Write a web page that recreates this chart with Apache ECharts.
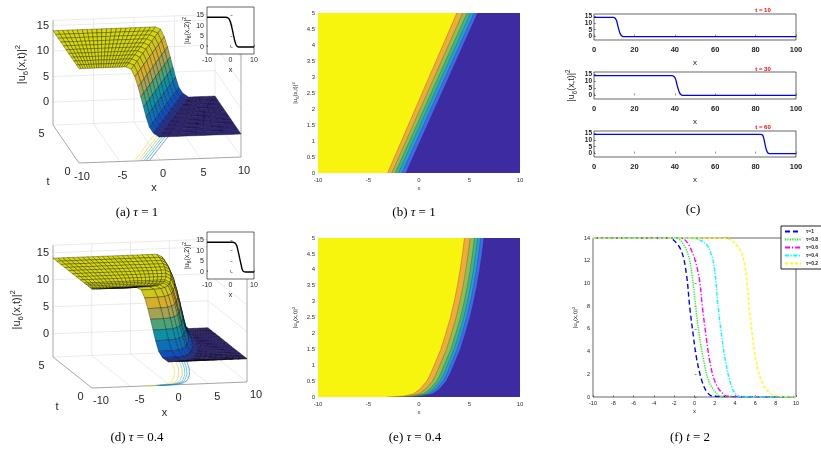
<!DOCTYPE html>
<html>
<head>
<meta charset="utf-8">
<script src="https://cdn.jsdelivr.net/npm/echarts@6/dist/echarts.min.js"></script>
<style>
html, body { margin: 0; padding: 0; background: #fff; }
#chart { width: 821px; height: 452px; }
</style>
</head>
<body>
<div id="chart"></div>
<script>
'use strict';
var SANS = '"Liberation Sans", Arial, sans-serif';
var SERIF = '"Liberation Serif", "Times New Roman", serif';

// ---- data ----
// kink profile across the front, x offsets measured from the level-12 contour
var kinkOffset = [-1.1, -0.45, 0, 0.4, 0.74, 1.07, 1.4, 1.8, 2.3, 3.0];
var kinkValue = [14, 13.5, 12, 10, 8, 6, 4, 2, 0.8, 0];

// contour levels of (b) and (e), x position of each level line
var contourLevels = [12, 10, 8, 6, 4, 2];
var contourB_t0 = [-3.11, -2.69, -2.36, -2.03, -1.70, -1.30];
var contourB_t5 = [3.74, 4.33, 4.76, 5.12, 5.45, 5.80];
var tE = [0, 0.03, 0.1, 0.25, 0.5, 0.75, 1, 1.5, 2, 2.5, 3, 3.5, 4, 4.5, 5];
var frontE = [-3.2, -1.5, -0.55, 0.1, 0.77, 1.17, 1.5, 2.16, 2.65, 3.11, 3.48, 3.8, 4.07, 4.3, 4.5];
var contourE_off = [0, 0.56, 0.99, 1.32, 1.6, 1.93];

// (a) surface rows: level-12 front position per t (tau = 1)
var tRowsA = [0, 0.5, 1, 1.5, 2, 2.5, 3, 3.5, 4, 4.5, 5];
var frontA = [-3.11, -2.43, -1.74, -1.06, -0.37, 0.32, 1.0, 1.69, 2.37, 3.06, 3.74];

// insets |u6(x,2)|^2
var insetAX = [-10, -2, -1, -0.3, 0.3, 0.8, 1.3, 1.8, 2.3, 3, 4, 10];
var insetAY = [14, 14, 13.6, 12.5, 10.5, 8, 5.5, 3, 1.2, 0.2, 0, 0];
var insetDX = [-10, 1, 1.9, 2.6, 3.1, 3.6, 4.1, 4.6, 5.0, 5.6, 6.5, 10];
var insetDY = [14, 14, 13.6, 12.5, 10.5, 8, 5.5, 3, 1.2, 0.2, 0, 0];

// (c) profiles at t = 10, 30, 60
var cTimes = ['t = 10', 't = 30', 't = 60'];
var cX1 = [0, 9.5, 10.5, 11.2, 11.8, 12.4, 13, 13.7, 14.5, 100];
var cX2 = [0, 38.5, 39.6, 40.4, 41, 41.7, 42.3, 43, 43.8, 100];
var cX3 = [0, 82.5, 83.5, 84, 84.5, 85, 85.5, 86, 86.8, 100];
var cY = [14, 14, 13.4, 11.5, 8, 4.5, 2, 0.6, 0, 0];

// (f) profiles at t = 2
var fNames = ['τ=1', 'τ=0.8', 'τ=0.6', 'τ=0.4', 'τ=0.2'];
var fX1 = [-10, -2.8, -2.1, -1.28, -0.79, -0.46, -0.13, 0.2, 0.69, 1.18, 1.84, 10];
var fY1 = [14, 14, 13.85, 12.83, 10.77, 7.84, 5.49, 3.43, 1.53, 0.5, 0.06, 0];
var fX2 = [-10, -2.2, -1.45, -0.63, -0.2, 0.13, 0.46, 0.86, 1.35, 2.0, 2.66, 10];
var fY2 = [14, 14, 13.85, 12.53, 10.48, 7.84, 5.49, 3.43, 1.53, 0.5, 0.06, 0];
var fX3 = [-10, -1.7, -0.95, -0.13, 0.46, 0.79, 1.12, 1.45, 1.94, 2.57, 3.32, 10];
var fY3 = [14, 14, 13.85, 12.53, 10.48, 7.84, 5.49, 3.43, 1.53, 0.5, 0.06, 0];
var fX4 = [-10, -0.5, 1.02, 1.68, 2.0, 2.34, 2.66, 3.0, 3.49, 3.98, 4.6, 10];
var fY4 = [14, 14, 13.56, 12.5, 11.07, 7.84, 5.49, 3.43, 1.38, 0.35, 0.02, 0];
var fX5 = [-10, 2.2, 3.16, 4.14, 4.8, 5.13, 5.39, 5.69, 6.02, 6.61, 7.43, 8.42, 10];
var fY5 = [14, 14, 13.94, 13.4, 12.24, 10.48, 7.84, 5.49, 3.43, 1.38, 0.35, 0.06, 0];

// ---- helpers ----
var parulaStops = [
  [0.00, 53, 42, 135], [0.10, 15, 92, 221], [0.20, 18, 125, 216],
  [0.30, 7, 156, 207], [0.40, 21, 177, 180], [0.50, 89, 189, 140],
  [0.60, 165, 190, 107], [0.70, 225, 185, 82], [0.80, 252, 206, 46],
  [0.90, 239, 229, 28], [1.00, 249, 251, 14]
];
function parula(v, shade) {
  shade = shade || 1;
  v = Math.max(0, Math.min(1, v));
  for (var i = 1; i < parulaStops.length; i++) {
    var a = parulaStops[i - 1], b = parulaStops[i];
    if (v <= b[0]) {
      var f = (v - a[0]) / (b[0] - a[0]);
      return 'rgb(' + Math.round(shade * (a[1] + f * (b[1] - a[1]))) + ',' +
        Math.round(shade * (a[2] + f * (b[2] - a[2]))) + ',' +
        Math.round(shade * (a[3] + f * (b[3] - a[3]))) + ')';
    }
  }
  return 'rgb(249,251,14)';
}
var bandColors = ['#f7f50d', '#f4a93c', '#92bf4a', '#3cb48f', '#22a2d2', '#4169ef'];
var bandLow = '#3d2ba1';

function zip(xs, ys) {
  return xs.map(function (x, i) { return [x, ys[i]]; });
}
function linspace(a, b, n) {
  var r = [];
  for (var i = 0; i < n; i++) r.push(a + (b - a) * i / (n - 1));
  return r;
}

// simple 3d -> panel projection, mapped to pixels by the hidden grid axes
var projA = { ox: 79, oy: 163, exx: 8.1, exy: -0.3, etx: -5.2, ety: -7.6, ez: 5.1, zmin: -4.5, zmax: 16 };
var projD = { ox: 92, oy: 163, exx: 7.75, exy: -0.3, etx: -7.8, ety: -6.2, ez: 5.4, zmin: -4.3, zmax: 16.4 };
function project(p, x, t, z) {
  return [p.ox + (x + 10) * p.exx + t * p.etx,
    p.oy + (x + 10) * p.exy + t * p.ety - (z - p.zmin) * p.ez];
}

function buildQuads(tRows, front) {
  var rows = [];
  var last = kinkOffset.length - 1;
  tRows.forEach(function (t, j) {
    var c = front[j], row = [];
    var hi = linspace(-10, c + kinkOffset[0], 22);
    hi.pop();
    hi.forEach(function (x) { row.push([x, kinkValue[0]]); });
    kinkOffset.forEach(function (o, i) { row.push([c + o, kinkValue[i]]); });
    var lo = linspace(c + kinkOffset[last], 10, 10);
    lo.shift();
    lo.forEach(function (x) { row.push([x, kinkValue[last]]); });
    rows.push(row);
  });
  var quads = [];
  for (var j = rows.length - 2; j >= 0; j--) {
    var r0 = rows[j], r1 = rows[j + 1], t0 = tRows[j], t1 = tRows[j + 1];
    for (var i = 0; i < r0.length - 1; i++) {
      quads.push([r0[i][0], t0, r0[i][1], r0[i + 1][0], t0, r0[i + 1][1],
        r1[i + 1][0], t1, r1[i + 1][1], r1[i][0], t1, r1[i][1]]);
    }
  }
  return quads;
}

var linesB = contourB_t0.map(function (x0, k) { return [x0, contourB_t5[k]]; });
var tB = [0, 5];
var linesE = contourE_off.map(function (o) { return frontE.map(function (f) { return f + o; }); });

function boxSegments(p) {
  var a = p.zmin, b = p.zmax, s = [];
  [0, 5, 10, 15].forEach(function (z) {
    s.push([-10, 5, z, 10, 5, z, 0]);
    s.push([10, 5, z, 10, 0, z, 0]);
  });
  [-5, 0, 5].forEach(function (x) {
    s.push([x, 5, a, x, 5, b, 0]);
    s.push([x, 0, a, x, 5, a, 0]);
  });
  s.push([-10, 5, a, 10, 5, a, 0], [10, 5, a, 10, 0, a, 0], [10, 5, a, 10, 5, b, 0],
    [-10, 5, b, 10, 5, b, 0], [10, 5, b, 10, 0, b, 0]);
  s.push([-10, 0, a, 10, 0, a, 1], [-10, 0, a, -10, 5, a, 1],
    [-10, 5, a, -10, 5, b, 1], [10, 0, a, 10, 0, b, 1]);
  return s;
}

function boxSeries(gi, p) {
  return {
    type: 'custom', xAxisIndex: gi, yAxisIndex: gi, silent: true, clip: false, z: 2,
    data: boxSegments(p),
    renderItem: function (params, api) {
      var a = api.coord(project(p, api.value(0), api.value(1), api.value(2)));
      var b = api.coord(project(p, api.value(3), api.value(4), api.value(5)));
      var axis = api.value(6) === 1;
      return {
        type: 'line', shape: { x1: a[0], y1: a[1], x2: b[0], y2: b[1] },
        style: { stroke: axis ? '#8f8f8f' : '#e2e2e2', lineWidth: axis ? 0.8 : 0.7 }
      };
    }
  };
}

function floorSeries(gi, p, tList, lines) {
  return {
    type: 'custom', xAxisIndex: gi, yAxisIndex: gi, silent: true, clip: false, z: 2,
    data: contourLevels.map(function (L, k) { return [k, L]; }),
    renderItem: function (params, api) {
      var k = api.value(0);
      var pts = tList.map(function (t, j) { return api.coord(project(p, lines[k][j], t, p.zmin)); });
      return { type: 'polyline', shape: { points: pts }, style: { stroke: parula(api.value(1) / 14), lineWidth: 0.6, fill: null } };
    }
  };
}

function surfaceSeries(gi, p, quads) {
  return {
    type: 'custom', xAxisIndex: gi, yAxisIndex: gi, silent: true, clip: false, z: 3,
    data: quads,
    renderItem: function (params, api) {
      var pts = [], zs = 0;
      for (var k = 0; k < 4; k++) {
        pts.push(api.coord(project(p, api.value(3 * k), api.value(3 * k + 1), api.value(3 * k + 2))));
        zs += api.value(3 * k + 2);
      }
      return {
        type: 'polygon', shape: { points: pts },
        style: { fill: parula(zs / 4 / 14, 0.86), stroke: 'rgba(0,0,0,0.7)', lineWidth: 0.45 }
      };
    }
  };
}

var uRich = function (size) {
  return {
    n: { fontSize: size, fontFamily: SANS, fill: '#262626', color: '#262626', lineHeight: size * 1.4, verticalAlign: 'middle' },
    s: { fontSize: size * 0.7, fontFamily: SANS, fill: '#262626', color: '#262626', lineHeight: size * 1.4, verticalAlign: 'bottom' },
    p: { fontSize: size * 0.7, fontFamily: SANS, fill: '#262626', color: '#262626', lineHeight: size * 1.4, verticalAlign: 'top' }
  };
};
function uText(arg) { return '{n||u}{s|6}{n|(' + arg + ')|}{p|2}'; }

function labels3d(p, o) {
  var L = [];
  [0, 5, 10, 15].forEach(function (z) {
    L.push({ x: -10, t: 5, z: z, dx: -4, dy: 0, text: String(z), align: 'right' });
  });
  [-10, -5, 0, 5, 10].forEach(function (x) {
    L.push({ x: x, t: 0, z: p.zmin, dx: o.xdx, dy: o.xdy, text: String(x), align: 'center' });
  });
  [0, 5].forEach(function (t) {
    L.push({ x: -10, t: t, z: p.zmin, dx: -11.5, dy: 8.5, text: String(t), align: 'center' });
  });
  L.push({ x: 0, t: 0, z: p.zmin, dx: o.ndx, dy: 28, text: 'x', align: 'center' });
  L.push({ x: -10, t: 0, z: p.zmin, dx: o.tdx, dy: 19, text: 't', align: 'center' });
  L.push({ x: -10, t: 5, z: 5, dx: o.zdx, dy: o.zdy, text: uText('x,t'), rich: uRich(11), rot: Math.PI / 2, align: 'center' });
  return L;
}

function labelSeries(gi, p, L) {
  return {
    type: 'custom', xAxisIndex: gi, yAxisIndex: gi, silent: true, clip: false, z: 4,
    data: L.map(function (l, i) { return [i, 0]; }),
    renderItem: function (params, api) {
      var l = L[params.dataIndex];
      var c = api.coord(project(p, l.x, l.t, l.z));
      return {
        type: 'text', x: c[0] + l.dx, y: c[1] + l.dy, rotation: l.rot || 0,
        style: {
          text: l.text, rich: l.rich, fill: '#262626', font: '11px ' + SANS,
          align: l.align, textAlign: l.align, verticalAlign: 'middle', textVerticalAlign: 'middle'
        }
      };
    }
  };
}

function bandSeries(gi, tList, lines) {
  var order = [[-1, 0], [5, 0], [4, 0], [3, 0], [2, 0], [1, 0], [0, 0]];
  return {
    type: 'custom', xAxisIndex: gi, yAxisIndex: gi, silent: true, clip: true, z: 2,
    data: order,
    renderItem: function (params, api) {
      var k = api.value(0);
      if (k < 0) {
        return {
          type: 'polygon',
          shape: { points: [[-10, 0], [10, 0], [10, 5], [-10, 5]].map(function (q) { return api.coord(q); }) },
          style: { fill: bandLow }
        };
      }
      var edge = [];
      for (var j = tList.length - 1; j >= 0; j--) edge.push(api.coord([lines[k][j], tList[j]]));
      var poly = [api.coord([-10, 0]), api.coord([-10, 5])].concat(edge);
      return {
        type: 'group', children: [
          { type: 'polygon', shape: { points: poly }, style: { fill: bandColors[k] } },
          { type: 'polyline', shape: { points: edge }, style: { stroke: 'rgba(40,30,20,0.55)', lineWidth: 0.45, fill: null } }
        ]
      };
    }
  };
}

// ---- axes ----
function hidden(gi, max, inv) {
  return { type: 'value', gridIndex: gi, min: 0, max: max, inverse: !!inv, show: false };
}
function insetX(gi) {
  return {
    type: 'value', gridIndex: gi, min: -10, max: 10, interval: 10, z: 10,
    axisLine: { show: false }, splitLine: { show: false },
    axisTick: { inside: true, length: 2, lineStyle: { color: '#262626', width: 0.5 } },
    axisLabel: { fontSize: 7, margin: 3, fontFamily: SANS, color: '#262626' },
    name: 'x', nameLocation: 'middle', nameGap: 13, nameTextStyle: { fontSize: 7, fontFamily: SANS, color: '#262626' }
  };
}
function insetY(gi) {
  return {
    type: 'value', gridIndex: gi, min: -3.3, max: 18.8, z: 10,
    axisLine: { show: false }, splitLine: { show: false },
    axisTick: { inside: true, length: 2, customValues: [0, 5, 10, 15], lineStyle: { color: '#262626', width: 0.5 } },
    axisLabel: { fontSize: 7, margin: 3, fontFamily: SANS, color: '#262626', customValues: [0, 5, 10, 15] },
    name: uText('x,2'), nameLocation: 'middle', nameGap: 15, nameTextStyle: { rich: uRich(7) }
  };
}
function contourX(gi) {
  return {
    type: 'value', gridIndex: gi, min: -10, max: 10, interval: 5,
    axisLine: { show: false }, axisTick: { show: false }, splitLine: { show: false },
    axisLabel: { fontSize: 6, margin: 4, fontFamily: SANS, color: '#333' },
    name: 'x', nameLocation: 'middle', nameGap: 12, nameTextStyle: { fontSize: 6, fontFamily: SANS, color: '#333' }
  };
}
function contourY(gi) {
  return {
    type: 'value', gridIndex: gi, min: 0, max: 5, interval: 0.5,
    axisLine: { show: false }, axisTick: { show: false }, splitLine: { show: false },
    axisLabel: { fontSize: 6, margin: 3, fontFamily: SANS, color: '#333' },
    name: uText('x,t'), nameLocation: 'middle', nameGap: 18, nameTextStyle: { rich: uRich(6) }
  };
}
function smallX(gi) {
  return {
    type: 'value', gridIndex: gi, min: 0, max: 100, interval: 20,
    axisLine: { show: false }, splitLine: { show: false },
    axisTick: { inside: true, length: 2, lineStyle: { color: '#222', width: 0.5 } },
    axisLabel: { fontSize: 7.5, fontWeight: 'bold', margin: 6, fontFamily: SANS, color: '#222' },
    name: 'x', nameLocation: 'middle', nameGap: 19, nameTextStyle: { fontSize: 8, fontFamily: SANS, color: '#222' }
  };
}
function smallY(gi, withName) {
  var ax = {
    type: 'value', gridIndex: gi, min: -2.5, max: 16.5,
    axisLine: { show: false }, splitLine: { show: false },
    axisTick: { inside: true, length: 2, customValues: [0, 5, 10, 15], lineStyle: { color: '#222', width: 0.5 } },
    axisLabel: { fontSize: 6.5, fontWeight: 'bold', margin: 2, fontFamily: SANS, color: '#222', customValues: [0, 5, 10, 15] }
  };
  if (withName) {
    ax.name = uText('x,t');
    ax.nameLocation = 'middle';
    ax.nameGap = 16;
    ax.nameTextStyle = { rich: uRich(9) };
  }
  return ax;
}

var xAxes = [
  hidden(0, 280), hidden(1, 280), insetX(2), insetX(3), contourX(4), contourX(5),
  smallX(6), smallX(7), smallX(8),
  {
    type: 'value', gridIndex: 9, min: -10, max: 10, interval: 2,
    axisLine: { show: false }, splitLine: { show: false },
    axisTick: { inside: true, length: 2, lineStyle: { color: '#222', width: 0.5 } },
    axisLabel: { fontSize: 5.5, margin: 3, fontFamily: SANS, color: '#222' },
    name: 'x', nameLocation: 'middle', nameGap: 11, nameTextStyle: { fontSize: 6, fontFamily: SANS, color: '#222' }
  }
];
var yAxes = [
  hidden(0, 225, true), hidden(1, 225, true), insetY(2), insetY(3), contourY(4), contourY(5),
  smallY(6, false), smallY(7, true), smallY(8, false),
  {
    type: 'value', gridIndex: 9, min: 0, max: 14, interval: 2,
    axisLine: { show: false }, splitLine: { show: false },
    axisTick: { inside: true, length: 2, lineStyle: { color: '#222', width: 0.5 } },
    axisLabel: { fontSize: 5.5, margin: 3, fontFamily: SANS, color: '#222' },
    name: uText('x,t'), nameLocation: 'middle', nameGap: 12, nameTextStyle: { rich: uRich(6) }
  }
];

var boxed = { show: true, borderColor: '#262626', borderWidth: 0.7, backgroundColor: '#fff' };
var grids = [
  { left: 0, top: 0, width: 280, height: 225 },
  { left: 0, top: 225, width: 280, height: 225 },
  Object.assign({ left: 207, top: 7, width: 47, height: 47, z: 10 }, boxed),
  Object.assign({ left: 207, top: 232, width: 47, height: 47, z: 10 }, boxed),
  { left: 318, top: 13, width: 202, height: 160 },
  { left: 318, top: 238, width: 202, height: 159 },
  Object.assign({ left: 594, top: 14, width: 202, height: 26 }, boxed),
  Object.assign({ left: 594, top: 72, width: 202, height: 27 }, boxed),
  Object.assign({ left: 594, top: 131, width: 202, height: 26 }, boxed),
  Object.assign({ left: 593, top: 238, width: 203, height: 159 }, boxed)
];

// ---- series ----
var series = [
  boxSeries(0, projA), floorSeries(0, projA, tB, linesB),
  surfaceSeries(0, projA, buildQuads(tRowsA, frontA)),
  labelSeries(0, projA, labels3d(projA, { xdx: 3, xdy: 14, ndx: -6, tdx: -31, zdx: -31, zdy: -12 })),
  boxSeries(1, projD), floorSeries(1, projD, tE, linesE),
  surfaceSeries(1, projD, buildQuads(tE, frontE)),
  labelSeries(1, projD, labels3d(projD, { xdx: 9, xdy: 13, ndx: -5, tdx: -35, zdx: -36, zdy: 3 })),
  bandSeries(4, tB, linesB),
  bandSeries(5, tE, linesE)
];
[[2, insetAX, insetAY], [3, insetDX, insetDY]].forEach(function (s) {
  series.push({
    type: 'line', xAxisIndex: s[0], yAxisIndex: s[0], z: 11, smooth: 0.35, symbol: 'none',
    lineStyle: { color: '#000', width: 1.4 }, data: zip(s[1], s[2]), silent: true
  });
});
[[6, cX1], [7, cX2], [8, cX3]].forEach(function (s) {
  series.push({
    type: 'line', xAxisIndex: s[0], yAxisIndex: s[0], smooth: 0.3, symbol: 'none',
    lineStyle: { color: '#0000ff', width: 1.3 }, data: zip(s[1], cY), silent: true
  });
});
var fData = [[fX1, fY1], [fX2, fY2], [fX3, fY3], [fX4, fY4], [fX5, fY5]];
var fColors = ['#0000ff', '#00ff00', '#ff00ff', '#00ffff', '#ffff00'];
var fDash = [[5, 3], [1.2, 1.2], [5, 2, 1.2, 2], [4, 1.5, 1.2, 1.5], [3, 2]];
fData.forEach(function (d, i) {
  series.push({
    name: fNames[i], type: 'line', xAxisIndex: 9, yAxisIndex: 9, smooth: 0.35, symbol: 'none',
    lineStyle: { color: fColors[i], width: 1.4, type: fDash[i] }, itemStyle: { color: fColors[i] },
    data: zip(d[0], d[1]), silent: true
  });
});

// ---- captions and small titles ----
function caption(x, y, head, sym, tail) {
  return {
    type: 'text', x: x, y: y,
    style: {
      text: '{a|' + head + '}{i|' + sym + '}{a|' + tail + '}',
      rich: {
        a: { fontFamily: SERIF, fontSize: 13, fill: '#000' },
        i: { fontFamily: SERIF, fontSize: 13, fontStyle: 'italic', fill: '#000' }
      },
      align: 'center', textAlign: 'center', verticalAlign: 'middle', textVerticalAlign: 'middle'
    }
  };
}
var graphics = [
  caption(137, 213, '(a) ', 'τ', ' = 1'),
  caption(414, 213, '(b) ', 'τ', ' = 1'),
  caption(693, 210, '(c)', '', ''),
  caption(137, 438, '(d) ', 'τ', ' = 0.4'),
  caption(415, 438, '(e) ', 'τ', ' = 0.4'),
  caption(690, 438, '(f) ', 't', ' = 2')
];
[10, 69, 127].forEach(function (y, i) {
  graphics.push({
    type: 'text', x: 763, y: y,
    style: {
      text: cTimes[i], fill: '#ff0000', font: 'bold 6px ' + SANS,
      align: 'center', textAlign: 'center', verticalAlign: 'middle', textVerticalAlign: 'middle'
    }
  });
});

var chart = echarts.init(document.getElementById('chart'));
chart.setOption({
  animation: false,
  backgroundColor: '#fff',
  grid: grids,
  xAxis: xAxes,
  yAxis: yAxes,
  legend: {
    data: fNames, left: 781, top: 226, orient: 'vertical',
    itemWidth: 16, itemHeight: 5, itemGap: 3, padding: [3, 12, 3, 3],
    borderColor: '#222', borderWidth: 1, backgroundColor: '#fff',
    itemStyle: { opacity: 0 },
    textStyle: { fontSize: 5, fontFamily: SANS, color: '#222', fontWeight: 'bold' },
    selectedMode: false
  },
  graphic: graphics,
  series: series
});
</script>
</body>
</html>
